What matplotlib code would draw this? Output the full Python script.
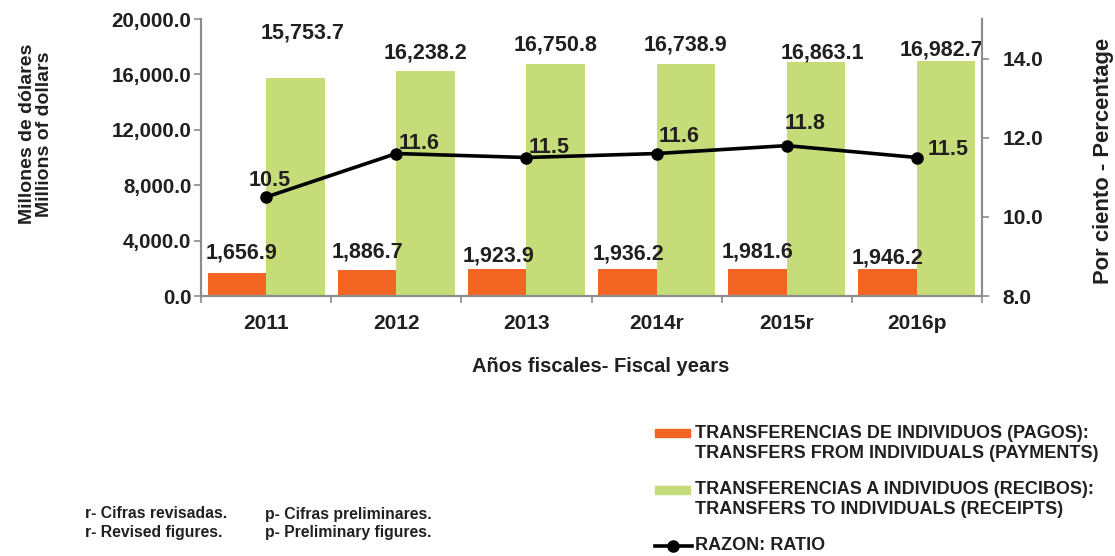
import matplotlib
matplotlib.use("Agg")
import matplotlib.pyplot as plt
from matplotlib.patches import Rectangle
from matplotlib.lines import Line2D
import numpy as np

plt.rcParams['font.family'] = ['Liberation Sans', 'DejaVu Sans']
plt.rcParams['font.weight'] = 'bold'

# ---- data ----
years = ["2011", "2012", "2013", "2014r", "2015r", "2016p"]
payments = [1656.9, 1886.7, 1923.9, 1936.2, 1981.6, 1946.2]
receipts = [15753.7, 16238.2, 16750.8, 16738.9, 16863.1, 16982.7]
ratio = [10.5, 11.6, 11.5, 11.6, 11.8, 11.5]

# label offsets (pixels) – styling only
pay_off = [(5, 20), (1, 18), (1, 13), (1, 15), (0, 17), (0, 11)]
rec_off = [(7, 45), (0, 18), (0, 19), (0, 19), (6, 9), (-5, 11)]
rat_off = [(4, 17), (23, 10), (23, 10), (22, 17), (18, 22), (31, 8)]

ORANGE = "#F26522"
GREEN = "#C6DC78"
TXT = "#231F20"
GRAY = "#8C8C8C"

W, H = 1115, 556
fig = plt.figure(figsize=(W / 100, H / 100), dpi=100)
ax = fig.add_axes([201 / W, 1 - 296 / H, 781 / W, 277 / H])
ax2 = ax.twinx()

x = np.arange(len(years))
bw = 0.45
ax.bar(x - bw / 2, payments, width=bw, color=ORANGE, zorder=2)
ax.bar(x + bw / 2, receipts, width=bw, color=GREEN, zorder=2)

ax.set_xlim(-0.5, len(years) - 0.5)
ax.set_ylim(0, 20000)
ax.set_yticks(np.arange(0, 20001, 4000))
ax.set_yticklabels([f"{v:,.1f}" for v in np.arange(0, 20001, 4000)])
ax.set_xticks(np.arange(-0.5, len(years), 1.0))
ax.set_xticklabels([])
ax.set_xticks(x, minor=True)
ax.set_xticklabels(years, minor=True)
ax.tick_params(axis='x', which='minor', length=0, pad=13, labelsize=15, labelcolor=TXT)
ax.tick_params(axis='x', which='major', length=5, color=GRAY, width=1.2, direction='out')
ax.tick_params(axis='y', length=5, color=GRAY, width=1.2, pad=2, labelsize=14.8, labelcolor=TXT)

for lab in ax.get_xticklabels(minor=True) + ax.get_yticklabels():
    lab.set_fontweight('bold')

for s in ['top']:
    ax.spines[s].set_visible(False)
    ax2.spines[s].set_visible(False)
for a in (ax, ax2):
    for s in ['left', 'right', 'bottom']:
        a.spines[s].set_color(GRAY)
        a.spines[s].set_linewidth(1.5)

ax2.plot(x, ratio, color='black', lw=2.6, marker='o', ms=8, zorder=5)
ax2.set_ylim(8, 15)
ax2.set_yticks([8, 10, 12, 14])
ax2.set_yticklabels([f"{v:.1f}" for v in [8, 10, 12, 14]])
ax2.tick_params(axis='y', length=5, color=GRAY, width=1.2, pad=9.5, labelsize=15, labelcolor=TXT)
for lab in ax2.get_yticklabels():
    lab.set_fontweight('bold')

# data labels
for i in range(len(years)):
    ax.annotate(f"{payments[i]:,.1f}", (x[i] - bw / 2, payments[i]),
                xytext=pay_off[i], textcoords='offset pixels',
                ha='center', va='center', fontsize=15.5, fontweight='bold', color=TXT, zorder=6)
    ax.annotate(f"{receipts[i]:,.1f}", (x[i] + bw / 2, receipts[i]),
                xytext=rec_off[i], textcoords='offset pixels',
                ha='center', va='center', fontsize=15.5, fontweight='bold', color=TXT, zorder=6)
    ax2.annotate(f"{ratio[i]:.1f}", (x[i], ratio[i]),
                 xytext=rat_off[i], textcoords='offset pixels',
                 ha='center', va='center', fontsize=15.5, fontweight='bold', color=TXT, zorder=6)

# axis titles
fig.text(36 / W, 1 - 134 / H, "Millones de dólares\nMillions of dollars", rotation=90,
         ha='center', va='center', multialignment='center', fontsize=14, fontweight='bold',
         color=TXT, linespacing=1.05)
fig.text(1103 / W, 1 - 161 / H, "Por ciento - Percentage", rotation=90,
         ha='center', va='center', fontsize=15.8, fontweight='bold', color=TXT)
fig.text(601 / W, 1 - 367 / H, "Años fiscales- Fiscal years",
         ha='center', va='center', fontsize=14.5, fontweight='bold', color=TXT)

# legend (manual)
fig.patches.append(Rectangle((655 / W, 1 - 437 / H), 35 / W, 8 / H, color=ORANGE,
                             transform=fig.transFigure, figure=fig))
fig.patches.append(Rectangle((655 / W, 1 - 494 / H), 35 / W, 8 / H, color=GREEN,
                             transform=fig.transFigure, figure=fig))
fig.lines.append(Line2D([655 / W, 692 / W], [1 - 546 / H, 1 - 546 / H], color='black', lw=2.6,
                        transform=fig.transFigure, figure=fig))
fig.lines.append(Line2D([673 / W], [1 - 546 / H], color='black', marker='o', ms=8,
                        transform=fig.transFigure, figure=fig))
leg_lines = [
    (433, "TRANSFERENCIAS DE INDIVIDUOS (PAGOS):"),
    (453, "TRANSFERS FROM INDIVIDUALS (PAYMENTS)"),
    (490, "TRANSFERENCIAS A INDIVIDUOS (RECIBOS):"),
    (510, "TRANSFERS TO INDIVIDUALS (RECEIPTS)"),
    (546, "RAZON: RATIO"),
]
for yy, t in leg_lines:
    fig.text(695 / W, 1 - yy / H, t, ha='left', va='center', fontsize=13,
             fontweight='bold', color=TXT)

# footnotes
foot = [(85, 514, "r- Cifras revisadas."), (85, 533, "r- Revised figures."),
        (265, 514, "p- Cifras preliminares."), (265, 533, "p- Preliminary figures.")]
for xx, yy, t in foot:
    fig.text(xx / W, 1 - yy / H, t, ha='left', va='center', fontsize=11.3,
             fontweight='bold', color=TXT)

fig.savefig("out.png", dpi=100)
